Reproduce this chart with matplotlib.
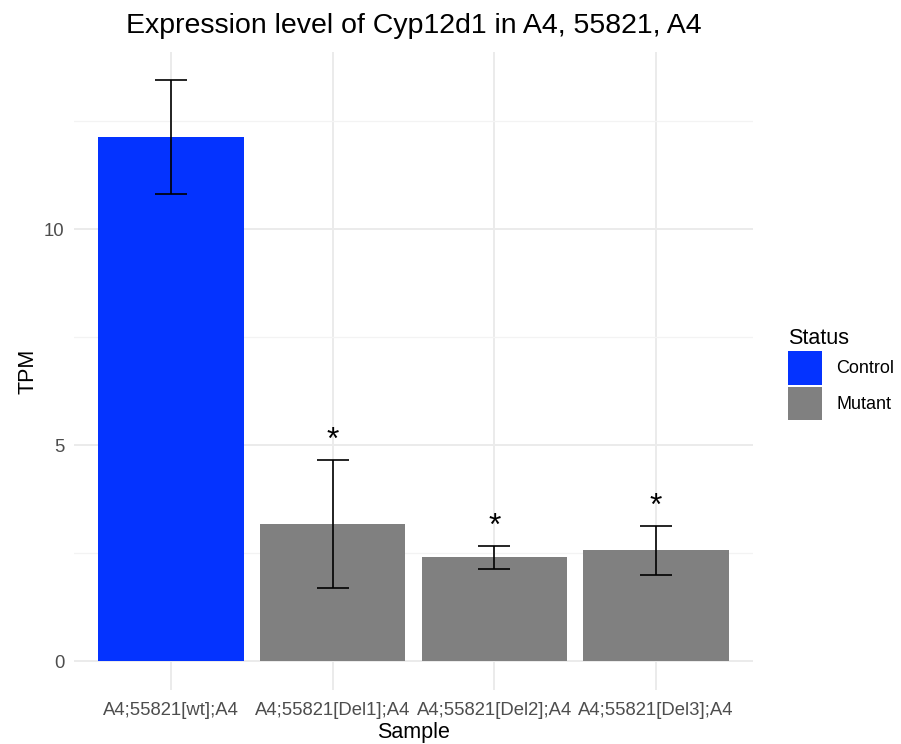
import matplotlib.pyplot as plt
from matplotlib.patches import Patch

samples = ['A4;55821[wt];A4', 'A4;55821[Del1];A4', 'A4;55821[Del2];A4', 'A4;55821[Del3];A4']
status = ['Control', 'Mutant', 'Mutant', 'Mutant']
tpm = [12.13, 3.17, 2.41, 2.57]
err_low = [10.81, 1.69, 2.13, 1.99]
err_high = [13.45, 4.65, 2.66, 3.13]
signif = ['', '*', '*', '*']

colors = {'Control': '#0433FF', 'Mutant': '#808080'}

plt.rcParams['font.family'] = ['Liberation Sans', 'DejaVu Sans']

fig = plt.figure(figsize=(9.01, 7.44), dpi=100)
ax = fig.add_axes([0.0821, 0.0726, 0.7536, 0.8574])

x = list(range(1, len(samples) + 1))
ax.bar(x, tpm, width=0.9, color=[colors[s] for s in status], zorder=2)

yerr = [[t - lo for t, lo in zip(tpm, err_low)], [hi - t for t, hi in zip(tpm, err_high)]]
ax.errorbar(x, tpm, yerr=yerr, fmt='none', ecolor='black', elinewidth=1.2,
            capsize=11.5, capthick=1.2, zorder=3)

# significance stars above the error bars
for xi, hi, s in zip(x, err_high, signif):
    if s:
        ax.text(xi, hi + 0.45, s, ha='center', va='center', fontsize=23, zorder=4)

ax.set_xlim(0.4, 4.6)
ax.set_ylim(-0.67, 14.1)
ax.set_yticks([0, 5, 10])
ax.set_yticks([2.5, 7.5, 12.5], minor=True)
ax.set_xticks(x)
ax.set_xticklabels(samples)

ax.grid(True, which='major', color='#EBEBEB', linewidth=1.4, zorder=0)
ax.grid(True, which='minor', axis='y', color='#F3F3F3', linewidth=0.9, zorder=0)
ax.set_axisbelow(True)
for sp in ax.spines.values():
    sp.set_visible(False)
ax.tick_params(which='both', length=0, labelsize=13.3, colors='#4D4D4D', pad=9)
ax.tick_params(axis='y', pad=7)

ax.set_xlabel('Sample', fontsize=15.5, labelpad=2)
ax.set_ylabel('TPM', fontsize=15.5, labelpad=4)
ax.set_title('Expression level of Cyp12d1 in A4, 55821, A4', fontsize=20.5, pad=14)

handles = [Patch(facecolor=colors[k], edgecolor='none', label=k) for k in ['Control', 'Mutant']]
leg = ax.legend(handles=handles, title='Status', loc='center left', bbox_to_anchor=(1.028, 0.495),
                frameon=False, fontsize=13, title_fontsize=15.5, handlelength=1.85,
                handleheight=2.5, handletextpad=0.8, labelspacing=0.1)
leg._legend_box.align = 'left'

fig.savefig('out.png', dpi=100)
